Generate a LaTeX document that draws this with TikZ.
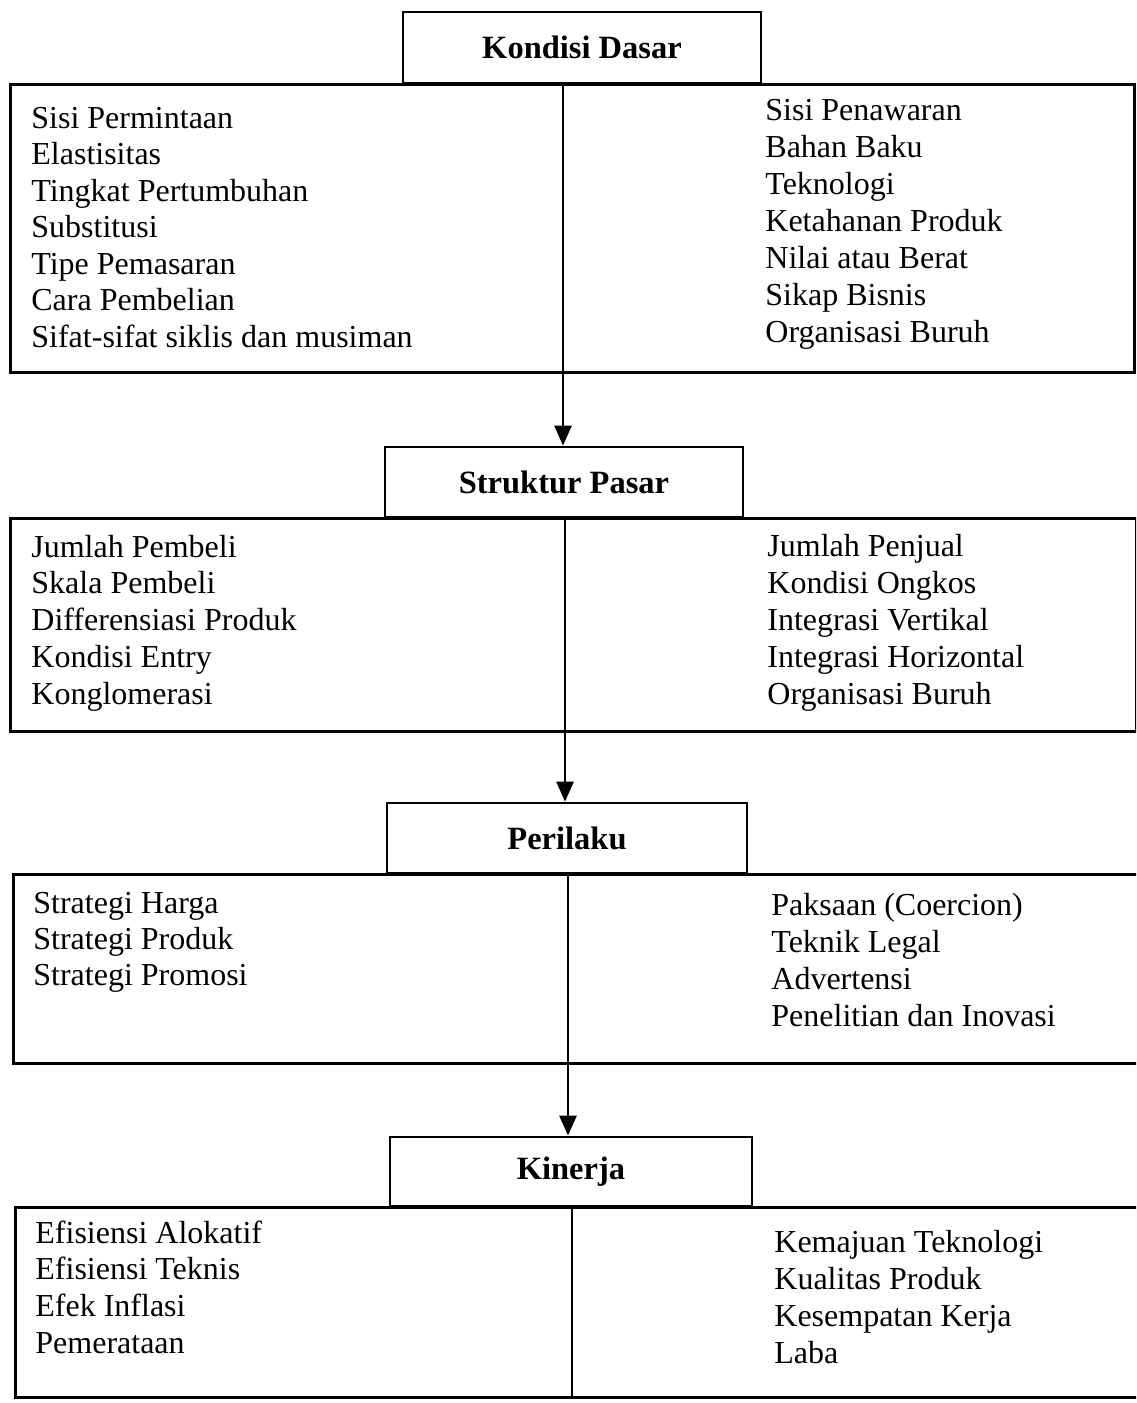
\documentclass[tikz,border=0pt]{standalone}
\usepackage{fontspec}
\setmainfont{Liberation Serif}
\usetikzlibrary{arrows.meta}
\begin{document}
\begin{tikzpicture}[x=1pt,y=-1pt,line width=2.8pt,
  titlebox/.style={draw,inner sep=0,font=\fontsize{32.5}{38}\selectfont\bfseries},
  mainbox/.style={draw,inner sep=0,anchor=north west},
  item/.style={anchor=base west,inner sep=0,font=\fontsize{32}{38}\selectfont},
  flow/.style={-{Triangle[width=17pt,length=20pt]}}]
\useasboundingbox (0,0) rectangle (1136,1403);
\clip (0,0) rectangle (1136,1403);
% main boxes
\node[mainbox,minimum width=1124pt,minimum height=288pt] (b1) at (9,83) {};
\node[mainbox,minimum width=1126pt,minimum height=213pt] (b2) at (9,517) {};
\node[mainbox,minimum width=1150pt,minimum height=189pt] (b3) at (12,873) {};
\node[mainbox,minimum width=1150pt,minimum height=190pt] (b4) at (14,1206) {};
% title boxes
\node[titlebox,minimum width=358pt,minimum height=71pt] (t1) at (582,47.5) {Kondisi Dasar};
\node[titlebox,minimum width=358pt,minimum height=70pt] (t2) at (564,482) {Struktur Pasar};
\node[titlebox,minimum width=360pt,minimum height=70pt] (t3) at (567,838) {Perilaku};
\node[titlebox,minimum width=362pt,minimum height=69pt] (t4) at (571,1171.5) {Kinerja};
% connectors
\coordinate (d1) at (563,83);
\coordinate (d2) at (565,517);
\coordinate (d3) at (568,873);
\coordinate (d4) at (572,1206);
\draw[flow] (d1) -- (t2.north -| d1);
\draw[flow] (d2) -- (t3.north -| d2);
\draw[flow] (d3) -- (t4.north -| d3);
\draw (d4) -- (b4.south -| d4);
% texts
\foreach \t [count=\i] in {Sisi Permintaan,Elastisitas,Tingkat Pertumbuhan,Substitusi,Tipe Pemasaran,Cara Pembelian,Sifat-sifat siklis dan musiman}
  \node[item] (la\i) at (30,{128+36.5*(\i-1)}) {\t};
\foreach \t [count=\i] in {Sisi Penawaran,Bahan Baku,Teknologi,Ketahanan Produk,Nilai atau Berat,Sikap Bisnis,Organisasi Buruh}
  \node[item] (ra\i) at (764,{120+37*(\i-1)}) {\t};
\foreach \t [count=\i] in {Jumlah Pembeli,Skala Pembeli,Differensiasi Produk,Kondisi Entry,Konglomerasi}
  \node[item] (lb\i) at (30,{557+36.75*(\i-1)}) {\t};
\foreach \t [count=\i] in {Jumlah Penjual,Kondisi Ongkos,Integrasi Vertikal,Integrasi Horizontal,Organisasi Buruh}
  \node[item] (rb\i) at (766,{556+37*(\i-1)}) {\t};
\foreach \t [count=\i] in {Strategi Harga,Strategi Produk,Strategi Promosi}
  \node[item] (lc\i) at (32,{913+36*(\i-1)}) {\t};
\foreach \t [count=\i] in {Paksaan (Coercion),Teknik Legal,Advertensi,Penelitian dan Inovasi}
  \node[item] (rc\i) at (770,{915+37*(\i-1)}) {\t};
\foreach \t [count=\i] in {Efisiensi Alokatif,Efisiensi Teknis,Efek Inflasi,Pemerataan}
  \node[item] (ld\i) at (34,{1243+36.7*(\i-1)}) {\t};
\foreach \t [count=\i] in {Kemajuan Teknologi,Kualitas Produk,Kesempatan Kerja,Laba}
  \node[item] (rd\i) at (773,{1252+37*(\i-1)}) {\t};
\end{tikzpicture}
\end{document}
